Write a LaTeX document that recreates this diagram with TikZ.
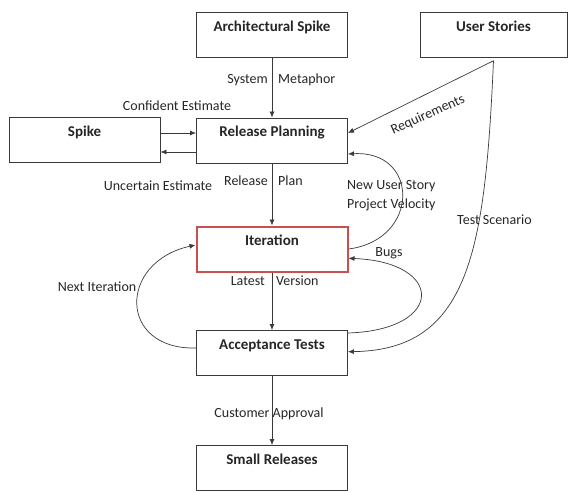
\documentclass[tikz,border=0pt]{standalone}
\usepackage{fontspec}
\setmainfont{Carlito}
\usetikzlibrary{arrows.meta}
\definecolor{ink}{HTML}{262626}
\definecolor{edge}{HTML}{3A3A3A}
\definecolor{redline}{HTML}{C9504F}
\tikzset{
  box/.style={draw=edge, line width=0.9pt, rectangle, minimum width=151pt,
    text height=19pt, text depth=26pt, inner ysep=0pt, align=center,
    font=\fontsize{15}{17}\selectfont\bfseries, text=ink},
  lbl/.style={inner sep=0pt, font=\fontsize{14}{16}\selectfont, text=ink},
  arr/.style={draw=edge, line width=0.7pt, -{Latex[length=6pt,width=5pt]}},
}
\begin{document}
\begin{tikzpicture}[x=1pt,y=-1pt]
\useasboundingbox (0,0) rectangle (568,492);

% boxes
\node[box] (arch) at (272,34.8) {Architectural Spike};
\node[box, minimum width=147pt] (us) at (493.5,34.8) {User Stories};
\node[box] (sp) at (84.5,140) {Spike};
\node[box] (rp) at (272,140.5) {Release Planning};
\node[box, draw=redline, line width=2pt] (it) at (272,249) {Iteration};
\node[box] (at) at (272,353) {Acceptance Tests};
\node[box] (sr) at (272,468) {Small Releases};

\coordinate (usp) at ([yshift=-3pt]us.south);

% straight connectors
\draw[arr] (arch.south) -- (rp.north);
\draw[arr] ([yshift=7pt]sp.east) -- ([yshift=7pt]sp.east -| rp.west);
\draw[arr] ([yshift=-11.5pt]rp.west) -- ([yshift=-11.5pt]rp.west -| sp.east);
\draw[arr] (rp.south) -- (it.north);
\draw[arr] (it.south) -- (at.north);
\draw[arr] (at.south) -- (sr.north);
\draw[arr] (usp) -- ([yshift=7.5pt]rp.east);

% curved connectors
\draw[arr] (it.east) .. controls (420,240) and (420,150) .. ([yshift=-13.5pt]rp.east);
\draw[arr] ([yshift=20pt]at.east) .. controls (445,330) and (445,262) .. ([yshift=-9.3pt]it.east);
\draw[arr] ([yshift=5pt]at.west) .. controls (118,350) and (118,262) .. ([yshift=4pt]it.west);
\draw[arr] (usp) .. controls (485,250) and (470,350) .. ([yshift=1.3pt]at.east);

% connector labels
\node[lbl, anchor=east] (l1) at (268,80) {System};
\node[lbl, anchor=west] (l2) at (278,80) {Metaphor};
\node[lbl] (l3) at (177,106) {Confident Estimate};
\node[lbl] (l4) at (158,186) {Uncertain Estimate};
\node[lbl, anchor=east] (l5) at (268,181) {Release};
\node[lbl, anchor=west] (l6) at (278,181) {Plan};
\node[lbl, anchor=east] (l7) at (265,281) {Latest};
\node[lbl, anchor=west] (l8) at (276,281) {Version};
\node[lbl] (l9) at (269,414) {Customer Approval};
\node[lbl, rotate=24.5] (l10) at (428,115) {Requirements};
\node[lbl, anchor=west] (l11) at (347,186) {New User Story};
\node[lbl, anchor=west] (l12) at (347,205) {Project Velocity};
\node[lbl, anchor=west] (l13) at (457,220) {Test Scenario};
\node[lbl] (l14) at (389,253) {Bugs};
\node[lbl] (l15) at (97,287) {Next Iteration};
\end{tikzpicture}
\end{document}
